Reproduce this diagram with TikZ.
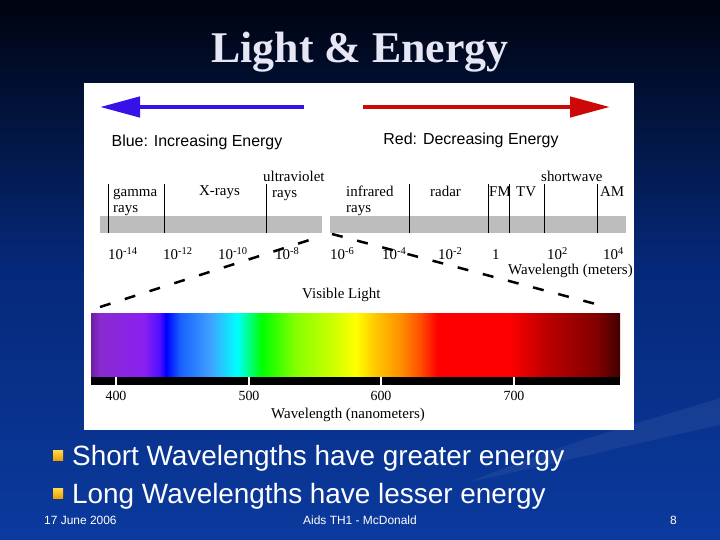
\documentclass[tikz,border=0pt]{standalone}
\usepackage{fontspec}
\setmainfont{Liberation Serif}
\newfontfamily\arialfont{Liberation Sans}
\usetikzlibrary{arrows.meta}
\definecolor{slidetop}{HTML}{00030F}
\definecolor{slidemid}{HTML}{05297A}
\definecolor{slidebot}{HTML}{0B3A9E}
\definecolor{titletext}{HTML}{E6E6F5}
\definecolor{energyblue}{HTML}{3810E8}
\definecolor{energyred}{HTML}{CC0808}
\definecolor{bandgray}{HTML}{BDBDBD}
\definecolor{bulletgold}{HTML}{FFCC00}
\definecolor{bulletorange}{HTML}{F0A000}
\definecolor{sp0}{HTML}{6A1FA0}
\definecolor{sp1}{HTML}{8A2BD0}
\definecolor{sp2}{HTML}{8A20F0}
\definecolor{sp3}{HTML}{5010FF}
\definecolor{sp4}{HTML}{0000FF}
\definecolor{sp5}{HTML}{1860FF}
\definecolor{sp6}{HTML}{40A0FF}
\definecolor{sp7}{HTML}{00FFFF}
\definecolor{sp8}{HTML}{00FF00}
\definecolor{sp9}{HTML}{80FF00}
\definecolor{sp10}{HTML}{C8FF00}
\definecolor{sp11}{HTML}{FFFF00}
\definecolor{sp12}{HTML}{FFC800}
\definecolor{sp13}{HTML}{FF9000}
\definecolor{sp14}{HTML}{FF5000}
\definecolor{sp15}{HTML}{FF0000}
\definecolor{sp16}{HTML}{C00000}
\definecolor{sp17}{HTML}{800000}
\definecolor{sp18}{HTML}{400000}
\pgfdeclareverticalshading{slideback}{100bp}{color(0bp)=(slidebot); color(25bp)=(slidebot);
  color(50bp)=(slidemid); color(75bp)=(slidetop); color(100bp)=(slidetop)}
\pgfdeclarehorizontalshading{visible}{100bp}{color(0bp)=(sp0); color(25bp)=(sp0);
  color(25.85bp)=(sp1); color(30bp)=(sp2); color(31.5bp)=(sp3); color(32.1bp)=(sp4);
  color(33.4bp)=(sp5); color(36.25bp)=(sp6); color(38.8bp)=(sp7); color(41.15bp)=(sp8);
  color(44.2bp)=(sp9); color(47.6bp)=(sp10); color(50bp)=(sp11); color(51.85bp)=(sp12);
  color(54.2bp)=(sp13); color(56.1bp)=(sp14); color(57.7bp)=(sp15); color(64.5bp)=(sp15);
  color(67.8bp)=(sp16); color(72.9bp)=(sp17); color(75bp)=(sp18); color(100bp)=(sp18)}

\begin{document}
\begin{tikzpicture}[x=1bp, y=1bp,
  title/.style={font=\fontsize{44}{44}\selectfont\bfseries, text=titletext, anchor=base, inner sep=0pt},
  energy/.style={line width=4.5bp, -{Triangle[length=40bp, width=20bp]}},
  energytext/.style={font=\arialfont\fontsize{16}{16}\selectfont, anchor=base, inner sep=0pt},
  bandlabel/.style={font=\fontsize{15}{15}\selectfont, anchor=base west, inner sep=0pt},
  divider/.style={line width=0.8bp},
  expo/.style={font=\fontsize{15}{15}\selectfont, anchor=base west, inner sep=0pt},
  visdash/.style={line width=2.5bp, dash pattern=on 11bp off 15bp},
  ticklabel/.style={font=\fontsize{14}{14}\selectfont, anchor=base, inner sep=0pt},
  bullet/.style={rectangle, minimum size=10bp, inner sep=0pt,
                 top color=bulletgold!70!white, bottom color=bulletorange},
  bullettext/.style={font=\arialfont\fontsize{28}{28}\selectfont, text=white,
                     anchor=base west, inner sep=0pt},
  footer/.style={font=\arialfont\fontsize{12}{12}\selectfont, text=white, inner sep=0pt},
]
\useasboundingbox (0,0) rectangle (720,-540);
\shade[shading=slideback] (0,0) rectangle (720,-540);
% swoosh
\fill[white, opacity=0.06] (470,-482) .. controls (570,-440) and (650,-420) .. (720,-398)
  -- (720,-425) .. controls (650,-440) and (570,-460) .. (470,-482) -- cycle;

\node[title] (title) at (360,-63) {Light \& Energy};

% picture panel
\fill[white] (84,-83) rectangle (634,-430);

\coordinate (bluestart) at (304,-107);
\coordinate (bluetip) at (100,-107);
\coordinate (redstart) at (363,-107);
\coordinate (redtip) at (610,-107);
\draw[energy, energyblue] (bluestart) -- (bluetip);
\draw[energy, energyred] (redstart) -- (redtip);
\node[energytext] (bluetext) at (197,-147) {Blue: Increasing Energy};
\node[energytext] (redtext) at (471,-145) {Red: Decreasing Energy};

% spectrum band
\fill[bandgray] (100,-216) rectangle (322,-233);
\fill[bandgray] (330,-216) rectangle (626,-233);
\foreach \x in {108,164,266,409,488,509,544,597}
  \draw[divider] (\x,-184) -- (\x,-233);

\node[bandlabel] (gamma) at (113,-197) {gamma};
\node[bandlabel] (gammarays) at (113,-213) {rays};
\node[bandlabel] (xrays) at (199,-196) {X-rays};
\node[bandlabel] (uv) at (263,-182) {ultraviolet};
\node[bandlabel] (uvrays) at (272,-198) {rays};
\node[bandlabel] (ir) at (346,-197) {infrared};
\node[bandlabel] (irrays) at (346,-213) {rays};
\node[bandlabel] (radar) at (430,-197) {radar};
\node[bandlabel] (fm) at (489,-197) {FM};
\node[bandlabel] (tv) at (516,-197) {TV};
\node[bandlabel] (sw) at (541,-182) {shortwave};
\node[bandlabel] (am) at (600,-197) {AM};

\node[expo] (e1) at (108,-260) {10\textsuperscript{-14}};
\node[expo] (e2) at (163,-260) {10\textsuperscript{-12}};
\node[expo] (e3) at (218,-260) {10\textsuperscript{-10}};
\node[expo] (e4) at (275,-260) {10\textsuperscript{-8}};
\node[expo] (e5) at (330,-260) {10\textsuperscript{-6}};
\node[expo] (e6) at (382,-260) {10\textsuperscript{-4}};
\node[expo] (e7) at (438,-260) {10\textsuperscript{-2}};
\node[expo] (e8) at (492,-260) {1};
\node[expo] (e9) at (547,-260) {10\textsuperscript{2}};
\node[expo] (e10) at (603,-260) {10\textsuperscript{4}};
\node[bandlabel] (meters) at (508,-275) {Wavelength (meters)};

% visible light zoom
\coordinate (visleft) at (100,-307);
\coordinate (gapleft) at (322,-236);
\coordinate (gapright) at (332,-234);
\coordinate (visright) at (607,-307);
\draw[visdash] (visleft) -- (gapleft);
\draw[visdash] (gapright) -- (visright);
\node[bandlabel] (vislabel) at (302,-298) {Visible Light};

\shade[shading=visible] (91,-313) rectangle (620,-377);
\fill[black] (91,-377) rectangle (620,-385);
\foreach \x/\nm in {116/400,249/500,381/600,514/700} {
  \draw[white, line width=1.5bp] (\x,-377) -- (\x,-385);
  \node[ticklabel] (nm\nm) at (\x,-400) {\nm};
}
\node[ticklabel, font=\fontsize{15}{15}\selectfont] (nanometers) at (348,-418) {Wavelength (nanometers)};

% bullets
\node[bullet] (b1) at (58,-455) {};
\node[bullet] (b2) at (58,-493) {};
\node[bullettext] (short) at (72,-465) {Short Wavelengths have greater energy};
\node[bullettext] (long) at (72,-503) {Long Wavelengths have lesser energy};

\node[footer, anchor=base west] (date) at (44,-524) {17 June 2006};
\node[footer, anchor=base] (course) at (360,-524) {Aids TH1 - McDonald};
\node[footer, anchor=base east] (page) at (677,-524) {8};

\end{tikzpicture}
\end{document}
